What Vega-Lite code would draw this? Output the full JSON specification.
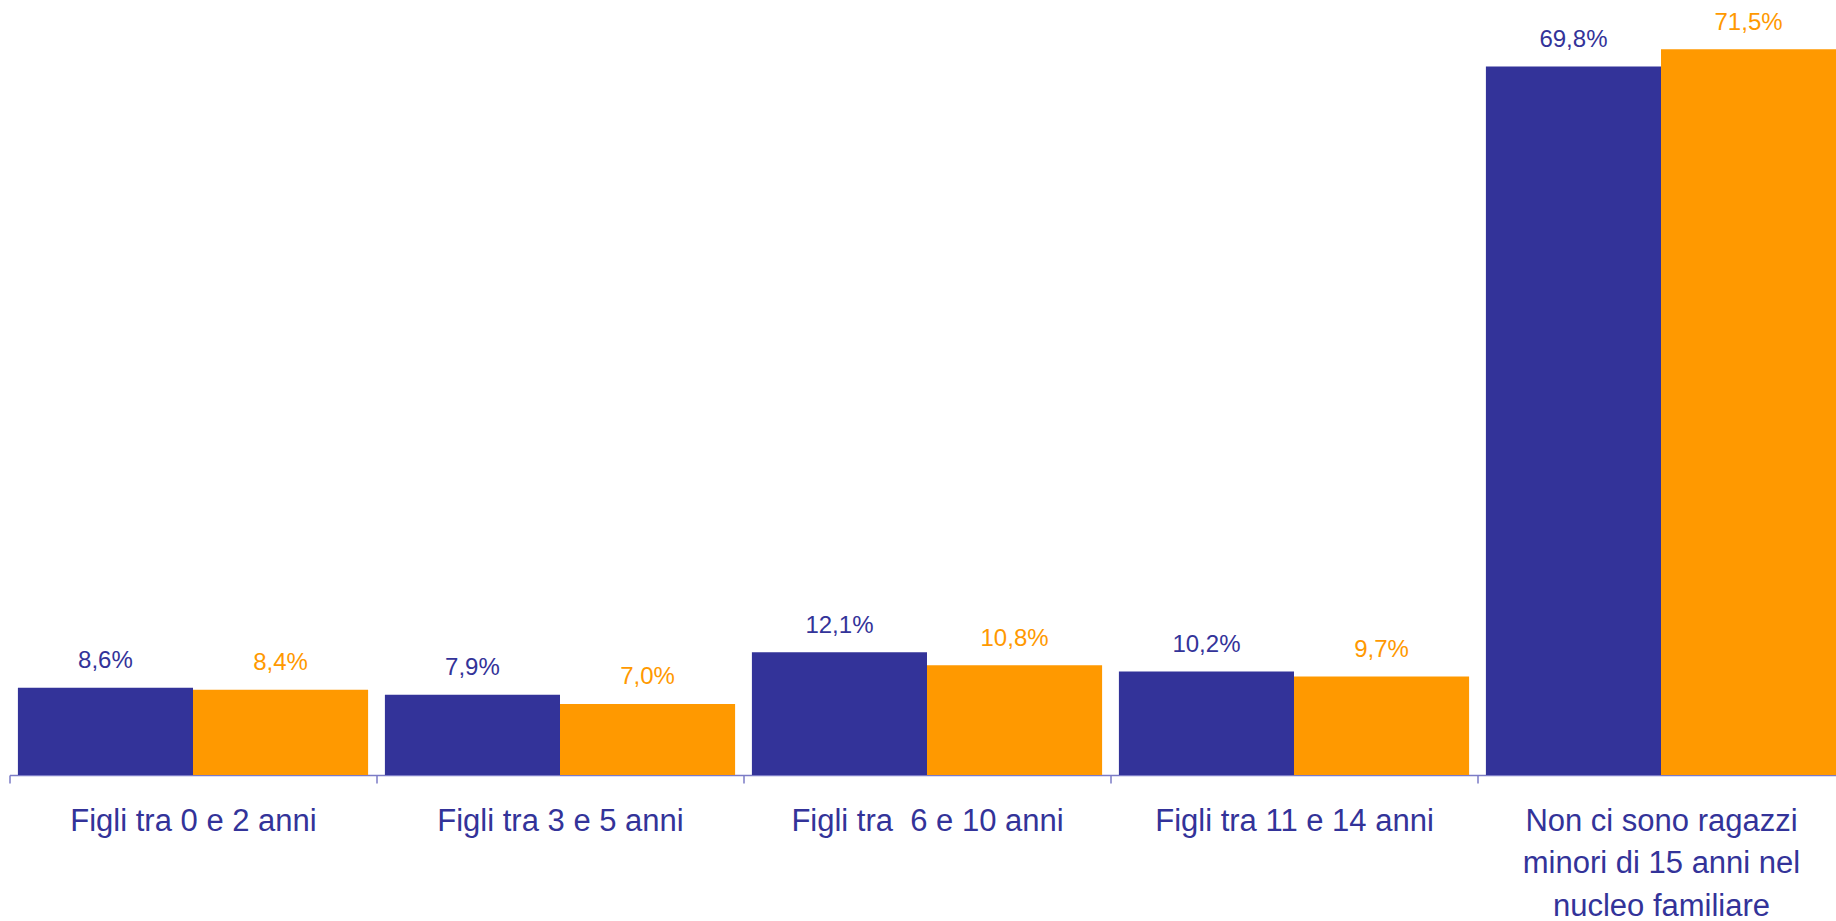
{
  "$schema": "https://vega.github.io/schema/vega-lite/v6.json",
  "autosize": {"type": "none"},
  "width": 1826.5,
  "height": 775,
  "padding": {"left": 9.5, "top": 0, "right": 0, "bottom": 146},
  "background": "white",
  "config": {"view": {"stroke": null}, "font": "Liberation Sans"},
  "data": {
    "values": [
      {"categoria": "Figli tra 0 e 2 anni", "serie": "Serie 1", "valore": 8.6},
      {"categoria": "Figli tra 0 e 2 anni", "serie": "Serie 2", "valore": 8.4},
      {"categoria": "Figli tra 3 e 5 anni", "serie": "Serie 1", "valore": 7.9},
      {"categoria": "Figli tra 3 e 5 anni", "serie": "Serie 2", "valore": 7.0},
      {"categoria": "Figli tra  6 e 10 anni", "serie": "Serie 1", "valore": 12.1},
      {"categoria": "Figli tra  6 e 10 anni", "serie": "Serie 2", "valore": 10.8},
      {"categoria": "Figli tra 11 e 14 anni", "serie": "Serie 1", "valore": 10.2},
      {"categoria": "Figli tra 11 e 14 anni", "serie": "Serie 2", "valore": 9.7},
      {"categoria": "Non ci sono ragazzi minori di 15 anni nel nucleo familiare", "serie": "Serie 1", "valore": 69.8},
      {"categoria": "Non ci sono ragazzi minori di 15 anni nel nucleo familiare", "serie": "Serie 2", "valore": 71.5}
    ]
  },
  "transform": [
    {"calculate": "replace(format(datum.valore, '.1f'), '.', ',') + '%'", "as": "etichetta"}
  ],
  "encoding": {
    "x": {
      "field": "categoria",
      "type": "nominal",
      "sort": null,
      "scale": {"range": [0, 1835], "paddingInner": 0, "paddingOuter": 0},
      "axis": {
        "title": null,
        "labelAngle": 0,
        "domainColor": "#7b7bc6",
        "domainWidth": 1.5,
        "tickColor": "#7b7bc6",
        "tickWidth": 1.5,
        "tickSize": 8,
        "tickBand": "extent",
        "labelFont": "Liberation Sans",
        "labelFontSize": 31,
        "labelColor": "#333399",
        "labelBaseline": "alphabetic",
        "labelPadding": 47,
        "labelLineHeight": 42.5,
        "labelLimit": 0,
        "labelExpr": "datum.label == 'Non ci sono ragazzi minori di 15 anni nel nucleo familiare' ? ['Non ci sono ragazzi', 'minori di 15 anni nel', 'nucleo familiare'] : replace(datum.label, '  ', ' \u00a0')"
      }
    },
    "xOffset": {
      "field": "serie",
      "type": "nominal",
      "scale": {"paddingOuter": 0.048, "paddingInner": 0}
    },
    "y": {
      "field": "valore",
      "type": "quantitative",
      "scale": {"domain": [0, 76.35], "nice": false, "zero": true},
      "axis": null
    },
    "color": {
      "field": "serie",
      "type": "nominal",
      "scale": {"domain": ["Serie 1", "Serie 2"], "range": ["#333399", "#FF9900"]},
      "legend": null
    }
  },
  "layer": [
    {"mark": {"type": "bar"}},
    {
      "mark": {"type": "text", "baseline": "alphabetic", "dy": -19.5, "fontSize": 24, "font": "Liberation Sans"},
      "encoding": {"text": {"field": "etichetta"}}
    }
  ]
}
